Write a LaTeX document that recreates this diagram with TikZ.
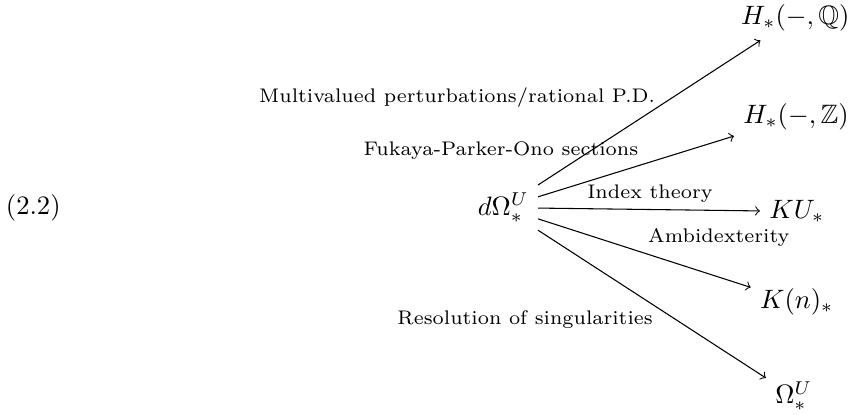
\documentclass[tikz,border=0pt]{standalone}
\usepackage{amsmath}
\usepackage{amsfonts}
\usepackage{amssymb}
\usepackage{tikz}

\begin{document}
\begin{tikzpicture}[>=to,lbl/.style={font=\fontsize{7.4pt}{9pt}\selectfont}]
\useasboundingbox (0,0) rectangle (11.22,5.484);

\node (eqno) at (0.44,2.74) {(2.2)};

\node (dOm) at (6.65,2.74) {$d\Omega^U_*$};

\node (HQ) at (10.51,5.25) {$H_*(-,\mathbb{Q})$};
\node (HZ) at (10.52,3.94) {$H_*(-,\mathbb{Z})$};
\node (KU) at (10.53,2.69) {$KU_*$};
\node (Kn) at (10.53,1.49) {$K(n)_*$};
\node (OmU) at (10.49,0.25) {$\Omega^U_*$};

\draw [->] (dOm) -- (HQ);
\draw [->] (dOm) -- (HZ);
\draw [->] (dOm) -- (KU);
\draw [->] (dOm) -- (Kn);
\draw [->] (dOm) -- (OmU);

\node[lbl] (mvp) at (6.04,4.20) {Multivalued perturbations/rational P.D.};
\node[lbl] (fpo) at (6.62,3.50) {Fukaya-Parker-Ono sections};
\node[lbl] (ind) at (8.59,2.93) {Index theory};
\node[lbl] (amb) at (9.50,2.34) {Ambidexterity};
\node[lbl] (res) at (6.94,1.26) {Resolution of singularities};
\end{tikzpicture}
\end{document}
